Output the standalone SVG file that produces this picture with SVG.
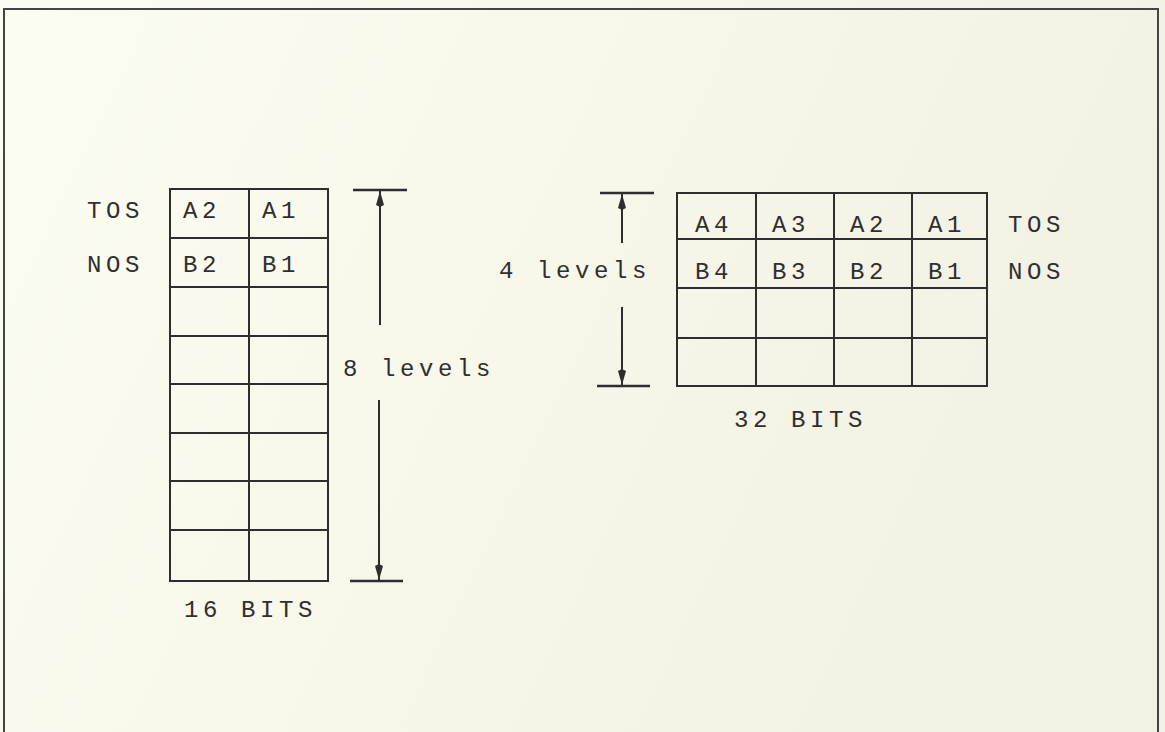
<svg xmlns="http://www.w3.org/2000/svg" width="1165" height="732" viewBox="0 0 1165 732">
<defs>
<linearGradient id="bg" x1="0" y1="0" x2="1" y2="0.3">
<stop offset="0" stop-color="#fcfdf1"/>
<stop offset="1" stop-color="#f2f1e3"/>
</linearGradient>
<marker id="ah" viewBox="0 0 16 10" refX="16" refY="5" markerWidth="16" markerHeight="10" markerUnits="userSpaceOnUse" orient="auto-start-reverse">
<path d="M16,5 L2,9 L0,5 L2,1 Z" fill="#2e2e2e"/>
</marker>
<style>
.t{font-family:"Liberation Mono",monospace;font-size:24px;letter-spacing:4.6px;fill:#2f2f2f}
.g{fill:none;stroke:#2e2e2e;stroke-width:2}
.d{stroke:#2e2e2e;stroke-width:2;fill:none}
.dt{stroke:#2e2e2e;stroke-width:2.5}
</style>
</defs>
<rect width="1165" height="732" fill="url(#bg)"/>
<path d="M4,732 L4,9 L1158,9 L1158,732" fill="none" stroke="#444" stroke-width="2"/>

<g id="stack16">
<rect class="g" x="170" y="189" width="158" height="392"/>
<path class="g" d="M249,189 V581 M170,238 H328 M170,287 H328 M170,336 H328 M170,384 H328 M170,433 H328 M170,481 H328 M170,530 H328"/>
<text class="t" x="183" y="218">A2</text>
<text class="t" x="262" y="218">A1</text>
<text class="t" x="183" y="272">B2</text>
<text class="t" x="262" y="272">B1</text>
</g>
<g id="labels16">
<text class="t" x="87" y="218">TOS</text>
<text class="t" x="87" y="272">NOS</text>
<text class="t" x="184" y="617">16 BITS</text>
<text class="t" x="343" y="376">8 levels</text>
</g>

<g id="stack32">
<rect class="g" x="677" y="193" width="310" height="193"/>
<path class="g" d="M756,193 V386 M834,193 V386 M912,193 V386 M677,239 H987 M677,288 H987 M677,338 H987"/>
<text class="t" x="695" y="232">A4</text>
<text class="t" x="772" y="232">A3</text>
<text class="t" x="850" y="232">A2</text>
<text class="t" x="928" y="232">A1</text>
<text class="t" x="695" y="279">B4</text>
<text class="t" x="772" y="279">B3</text>
<text class="t" x="850" y="279">B2</text>
<text class="t" x="928" y="279">B1</text>
</g>
<g id="labels32">
<text class="t" x="1008" y="232">TOS</text>
<text class="t" x="1008" y="279">NOS</text>
<text class="t" x="734" y="427">32 BITS</text>
<text class="t" x="499" y="278">4 levels</text>
</g>

<g id="connectors">
<path class="dt" d="M353,190 H407 M350,581 H403"/>
<path class="d" d="M380,191 V325" marker-start="url(#ah)"/>
<path class="d" d="M379,400 V580" marker-end="url(#ah)"/>
<path class="dt" d="M600,193 H654 M597,386 H650"/>
<path class="d" d="M622,194 V243" marker-start="url(#ah)"/>
<path class="d" d="M622,307 V385" marker-end="url(#ah)"/>
</g>
</svg>
